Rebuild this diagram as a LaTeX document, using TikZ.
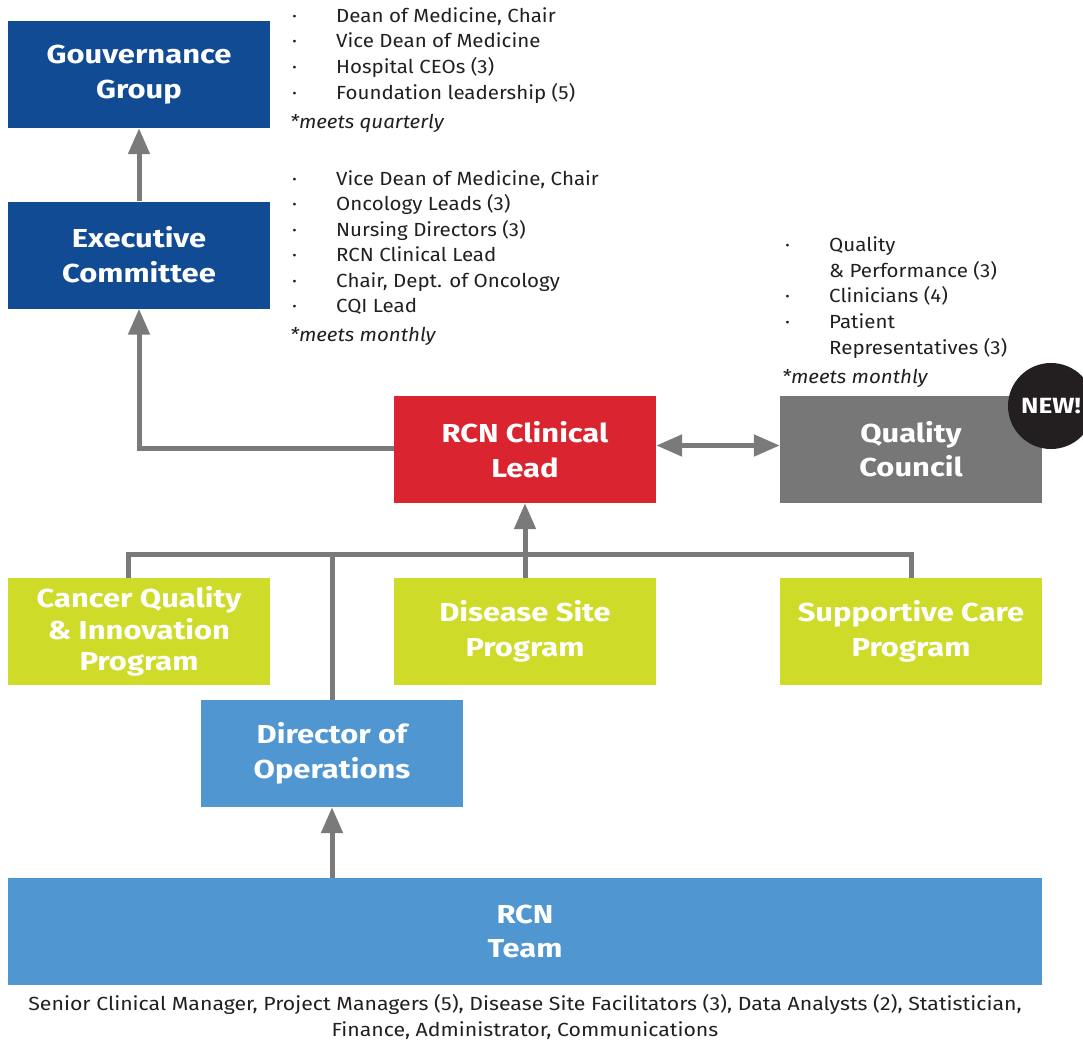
\documentclass[tikz,border=0pt]{standalone}
\usepackage{fontspec}
\setmainfont{Fira Sans}[FakeStretch=1.08, BoldFeatures={FakeStretch=1.19}]
\newfontfamily\footfont{Fira Sans}[FakeStretch=1.12]
\usetikzlibrary{arrows.meta}
\definecolor{dblue}{HTML}{114B93}
\definecolor{rred}{HTML}{DA2530}
\definecolor{qgray}{HTML}{777777}
\definecolor{lgreen}{HTML}{CEDC29}
\definecolor{lblue}{HTML}{5097D1}
\definecolor{cgray}{HTML}{7A7A7A}
\definecolor{txt}{HTML}{231F20}
\newcommand{\lbul}{\makebox[44pt][l]{·}}
\newcommand{\lind}{\hspace*{44pt}}
\begin{document}
\begin{tikzpicture}[x=1pt,y=-1pt,
  box/.style={rectangle, minimum width=262pt, minimum height=107pt, inner sep=0pt,
    text=white, align=center, font=\fontsize{26}{35}\selectfont\bfseries},
  conn/.style={line width=5pt, draw=cgray},
  arr/.style={conn, -{Triangle[width=21pt,length=26pt]}},
  darr/.style={conn, {Triangle[width=21pt,length=26pt]}-{Triangle[width=21pt,length=26pt]}},
  lst/.style={anchor=base west, inner sep=0pt, font=\fontsize{19}{25}\selectfont, text=txt},
  note/.style={lst, font=\fontsize{19}{25}\selectfont\itshape},
  foot/.style={anchor=base, inner sep=0pt, font=\footfont\fontsize{19}{26}\selectfont, text=txt}]
\useasboundingbox (0,0) rectangle (1083,1044);

% boxes
\node[box, fill=dblue] (gouv) at (139,74.5) {Gouvernance\\Group};
\node[box, fill=dblue] (exec) at (139,255) {Executive\\Committee};
\node[box, fill=rred] (rcnl) at (525,449.5) {RCN Clinical\\Lead};
\node[box, fill=qgray, font=\fontsize{26}{34}\selectfont\bfseries] (qc) at (911,449.5) {Quality\\Council};
\node[box, fill=lgreen, font=\fontsize{26}{31.5}\selectfont\bfseries] (cqi) at (139,631.5) {Cancer Quality\\\& Innovation\\Program};
\node[box, fill=lgreen] (dsp) at (525,631.5) {Disease Site\\Program};
\node[box, fill=lgreen] (spc) at (911,631.5) {Supportive Care\\Program};
\node[box, fill=lblue] (dir) at (332,753.5) {Director of\\Operations};
\node[box, fill=lblue, minimum width=1034pt, font=\fontsize{26}{34}\selectfont\bfseries] (team) at (525,931.5) {RCN\\Team};

% NEW badge
\node[circle, fill=txt, minimum size=86pt, inner sep=0pt, text=white,
  font=\fontsize{22}{24}\selectfont\bfseries] (new) at (1051,406) {NEW!};

% Governance list
\node[lst] (g1) at (292,22) {\lbul Dean of Medicine, Chair};
\node[lst] (g2) at (292,47.5) {\lbul Vice Dean of Medicine};
\node[lst] (g3) at (292,73) {\lbul Hospital CEOs (3)};
\node[lst] (g4) at (292,99) {\lbul Foundation leadership (5)};
\node[note] (g5) at (290,128) {*meets quarterly};

% Executive list
\node[lst] (e1) at (292,185) {\lbul Vice Dean of Medicine, Chair};
\node[lst] (e2) at (292,210.5) {\lbul Oncology Leads (3)};
\node[lst] (e3) at (292,236) {\lbul Nursing Directors (3)};
\node[lst] (e4) at (292,261.5) {\lbul RCN Clinical Lead};
\node[lst] (e5) at (292,287) {\lbul Chair, Dept. of Oncology};
\node[lst] (e6) at (292,312.5) {\lbul CQI Lead};
\node[note] (e7) at (290,341) {*meets monthly};

% Quality council list
\node[lst] (q1) at (785,251) {\lbul Quality};
\node[lst] (q2) at (785,277) {\lind \& Performance (3)};
\node[lst] (q3) at (785,302) {\lbul Clinicians (4)};
\node[lst] (q4) at (785,328) {\lbul Patient};
\node[lst] (q5) at (785,354) {\lind Representatives (3)};
\node[note] (q6) at (782,383) {*meets monthly};

% footer
\node[foot] (f1) at (525,1010) {Senior Clinical Manager, Project Managers (5), Disease Site Facilitators (3), Data Analysts (2), Statistician,};
\node[foot] (f2) at (525,1036) {Finance, Administrator, Communications};

% connectors
\draw[arr] (exec.north) -- (gouv.south);
\draw[arr] ([yshift=1pt]rcnl.west) -| (exec.south);
\draw[darr] ([yshift=4pt]rcnl.east) -- ([yshift=4pt]qc.west);
\coordinate (bl) at (128,554);
\coordinate (br) at (911,554);
\draw[conn] (bl |- cqi.north) -- (bl) -- (br) -- (spc.north);
\draw[arr] (dsp.north) -- (rcnl.south);
\draw[conn] (dir.north) -- (dir.north |- bl);
\draw[arr] (team.north -| dir.north) -- (dir.south);
\end{tikzpicture}
\end{document}
